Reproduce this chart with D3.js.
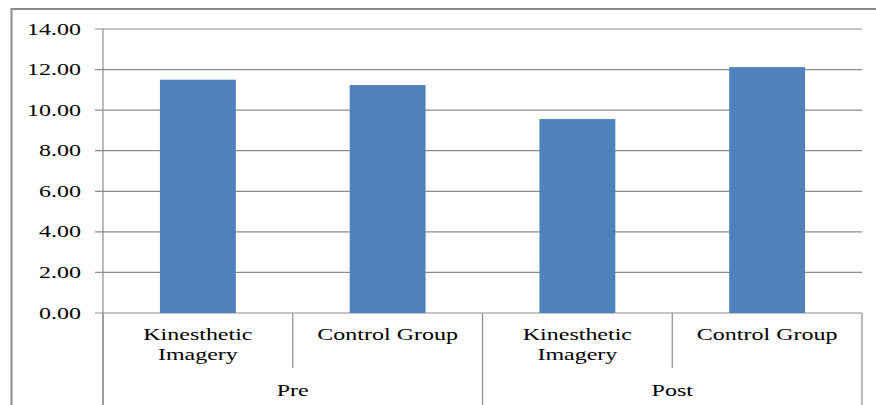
<!DOCTYPE html>
<html lang="en">
<head>
<meta charset="UTF-8">
<title>Pre / Post bar chart</title>
<script src="https://d3js.org/d3.v7.min.js"></script>
<style>
  body { margin: 0; background: #fff; }
</style>
</head>
<body>
<script>
// data
const groups = ['Pre', 'Post'];
const categories = ['Kinesthetic Imagery', 'Control Group'];
const values = [11.5, 11.24, 9.56, 12.12];
const yTicks = [0, 2, 4, 6, 8, 10, 12, 14];

const W = 876, H = 405;
const plotLeft = 103, plotRight = 862, plotTop = 29, plotBottom = 313;
const stretch = 1.5;   // text in the original is horizontally stretched
const serif = '"Liberation Serif", "DejaVu Serif", "Times New Roman", serif';

const svg = d3.select('body').append('svg').attr('width', W).attr('height', H)
    .style('font-family', serif);

// outer frame
svg.append('rect')
    .attr('x', 11.5).attr('y', 9).attr('width', W).attr('height', H)
    .attr('fill', 'none').attr('stroke', '#8c8c8c').attr('stroke-width', 2);

const keys = [];
groups.forEach(g => categories.forEach(c => keys.push(g + '|' + c)));

const x = d3.scaleBand().domain(keys).range([plotLeft, plotRight]).paddingInner(0.6).paddingOuter(0.3);
const y = d3.scaleLinear().domain([0, 14]).range([plotBottom, plotTop]);

// gridlines + ticks
svg.append('g').selectAll('line').data(yTicks).join('line')
    .attr('x1', plotLeft - 8).attr('x2', plotRight)
    .attr('y1', d => y(d)).attr('y2', d => y(d))
    .attr('stroke', '#8c8c8c').attr('stroke-width', 1.2);

svg.append('g').selectAll('text').data(yTicks).join('text')
    .attr('transform', d => `translate(81,${y(d) + 5.5}) scale(${stretch},1)`)
    .attr('text-anchor', 'end')
    .style('font-family', serif)
    .attr('font-size', 16)
    .text(d => d.toFixed(2));

// bars
svg.append('g').selectAll('rect').data(values).join('rect')
    .attr('x', (d, i) => x(keys[i]))
    .attr('width', x.bandwidth())
    .attr('y', d => y(d))
    .attr('height', d => y(0) - y(d))
    .attr('fill', '#4f81bd');

// y axis line runs to the bottom of the frame
const axisColor = '#8c8c8c';
svg.append('line').attr('x1', plotLeft).attr('x2', plotLeft).attr('y1', plotTop).attr('y2', H)
    .attr('stroke', axisColor).attr('stroke-width', 1.2);

// category separators
const step = x.step();
const seps = d3.range(keys.length + 1).map(i => ({
    x: plotLeft + i * step,
    tall: i % categories.length === 0
}));
svg.append('g').selectAll('line').data(seps).join('line')
    .attr('x1', d => d.x).attr('x2', d => d.x)
    .attr('y1', plotBottom).attr('y2', d => d.tall ? H : 368)
    .attr('stroke', axisColor).attr('stroke-width', 1.2);

// category labels
const catG = svg.append('g').selectAll('text').data(keys).join('text')
    .attr('transform', k => `translate(${x(k) + x.bandwidth() / 2},0) scale(${stretch},1)`)
    .attr('text-anchor', 'middle')
    .style('font-family', serif)
    .attr('font-size', 16);
catG.each(function (k) {
    const words = k.split('|')[1];
    const lines = words === 'Control Group' ? [words] : words.split(' ');
    d3.select(this).selectAll('tspan').data(lines).join('tspan')
        .attr('x', 0)
        .attr('y', (d, i) => 340 + i * 20)
        .text(d => d);
});

// group labels
svg.append('g').selectAll('text').data(groups).join('text')
    .attr('transform', (g, i) => `translate(${plotLeft + (i + 0.5) * step * categories.length},396) scale(${stretch},1)`)
    .attr('text-anchor', 'middle')
    .style('font-family', serif)
    .attr('font-size', 16)
    .text(d => d);
</script>
</body>
</html>
